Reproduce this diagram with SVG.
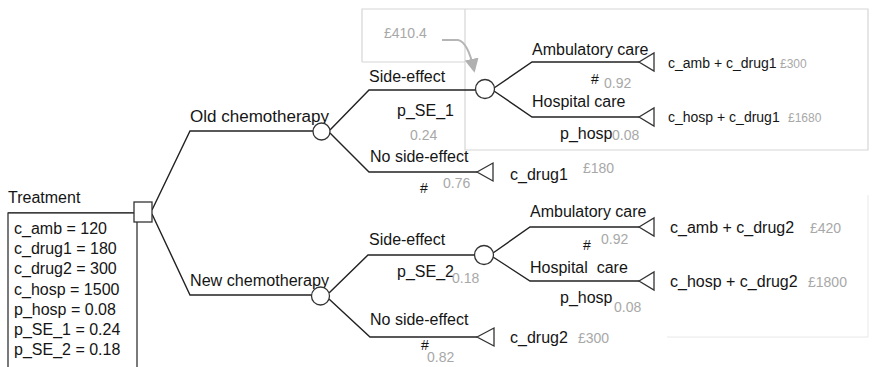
<svg xmlns="http://www.w3.org/2000/svg" width="872" height="367" viewBox="0 0 872 367">
<style>
text{font-family:"Liberation Sans",Arial,sans-serif;font-size:16px;fill:#151515}
.g{fill:#a8a8a8;font-size:14px}
.s{font-size:14px}
.gs{fill:#a8a8a8;font-size:12px}
.ln{fill:none;stroke:#222;stroke-width:1.4}
.nd{fill:#fff;stroke:#333;stroke-width:1.3}
.fr{fill:none;stroke:#d6d6d6;stroke-width:1.2}
</style>
<defs>
<marker id="ah" viewBox="0 0 10 10" refX="8" refY="5" markerWidth="7" markerHeight="7" orient="auto"><path d="M0,0L10,5L0,10z" fill="#b0b0b0"/></marker>
</defs>
<rect width="872" height="367" fill="#fff"/>
<g id="frames">
<path class="fr" d="M362,62V9H868V150H465V9M362,62H465"/>
<path d="M667,337H868V195" fill="none" stroke="#e8e8e8" stroke-width="1"/>
<text class="g" x="384" y="38">£410.4</text>
<path d="M442,40H458Q468,42 474,70" fill="none" stroke="#b5b5b5" stroke-width="2" marker-end="url(#ah)"/>
</g>
<g id="connectors">
<path class="ln" d="M8,213H134"/>
<path class="ln" d="M152,210L190,131H313"/>
<path class="ln" d="M152,214L190,295H312"/>
<path class="ln" d="M330,130L369,90H476"/>
<path class="ln" d="M330,133L369,172H477"/>
<path class="ln" d="M494,88L532,62H639"/>
<path class="ln" d="M494,91L532,117H639"/>
<path class="ln" d="M329,293L368,255H475"/>
<path class="ln" d="M329,299L370,337H477"/>
<path class="ln" d="M493,253L530,227H639"/>
<path class="ln" d="M493,257L530,281H639"/>
</g>
<g id="treatment">
<rect class="nd" x="8" y="213" width="129" height="170"/>
<rect class="nd" x="134" y="202" width="18" height="20"/>
<text x="8" y="203">Treatment</text>
<text x="14" y="234">c_amb = 120</text>
<text x="14" y="254">c_drug1 = 180</text>
<text x="14" y="274">c_drug2 = 300</text>
<text x="14" y="295">c_hosp = 1500</text>
<text x="14" y="315">p_hosp = 0.08</text>
<text x="14" y="335">p_SE_1 = 0.24</text>
<text x="14" y="355">p_SE_2 = 0.18</text>
</g>
<g id="old-chemo">
<text x="190" y="122" textLength="139" lengthAdjust="spacingAndGlyphs">Old chemotherapy</text>
<circle class="nd" cx="321.5" cy="131.5" r="8.5"/>
</g>
<g id="old-se">
<text x="369" y="82">Side-effect</text>
<text x="397" y="116">p_SE_1</text>
<text class="g" x="410" y="140">0.24</text>
<circle class="nd" cx="485" cy="89" r="9.5"/>
</g>
<g id="old-amb">
<text x="532" y="55">Ambulatory care</text>
<text x="591" y="84" style="font-size:14px">#</text>
<text class="g" x="604" y="88">0.92</text>
<path class="nd" d="M639,62L654,53V71Z"/>
<text class="s" x="668" y="68">c_amb + c_drug1</text>
<text class="gs" x="780" y="68">£300</text>
</g>
<g id="old-hosp">
<text x="532" y="107">Hospital care</text>
<text x="560" y="139">p_hosp</text>
<text class="g" x="612" y="140">0.08</text>
<path class="nd" d="M639,117L654,108V126Z"/>
<text class="s" x="668" y="122">c_hosp + c_drug1</text>
<text class="gs" x="788" y="122">£1680</text>
</g>
<g id="old-nose">
<text x="370" y="162">No side-effect</text>
<text x="420" y="193" style="font-size:14px">#</text>
<text class="g" x="443" y="188">0.76</text>
<path class="nd" d="M477,172L493,163V181Z"/>
<text x="510" y="180">c_drug1</text>
<text class="g" x="583" y="173">£180</text>
</g>
<g id="new-chemo">
<text x="190" y="286" textLength="139" lengthAdjust="spacingAndGlyphs">New chemotherapy</text>
<circle class="nd" cx="320.5" cy="296" r="9"/>
</g>
<g id="new-se">
<text x="369" y="245">Side-effect</text>
<text x="397" y="277">p_SE_2</text>
<text class="g" x="452" y="283">0.18</text>
<circle class="nd" cx="484" cy="255" r="9.5"/>
</g>
<g id="new-amb">
<text x="530" y="217">Ambulatory care</text>
<text x="583" y="250" style="font-size:14px">#</text>
<text class="g" x="601" y="244">0.92</text>
<path class="nd" d="M639,227L654,218V236Z"/>
<text x="670" y="233">c_amb + c_drug2</text>
<text class="g" x="810" y="233">£420</text>
</g>
<g id="new-hosp">
<text x="530" y="273" xml:space="preserve">Hospital  care</text>
<text x="560" y="303">p_hosp</text>
<text class="g" x="614" y="312">0.08</text>
<path class="nd" d="M639,281L654,272V290Z"/>
<text x="670" y="287">c_hosp + c_drug2</text>
<text class="g" x="808" y="287">£1800</text>
</g>
<g id="new-nose">
<text x="370" y="325">No side-effect</text>
<text x="421" y="350" style="font-size:14px">#</text>
<text class="g" x="427" y="362">0.82</text>
<path class="nd" d="M477,337L494,328V346Z"/>
<text x="510" y="343">c_drug2</text>
<text class="g" x="578" y="343">£300</text>
</g>
</svg>
